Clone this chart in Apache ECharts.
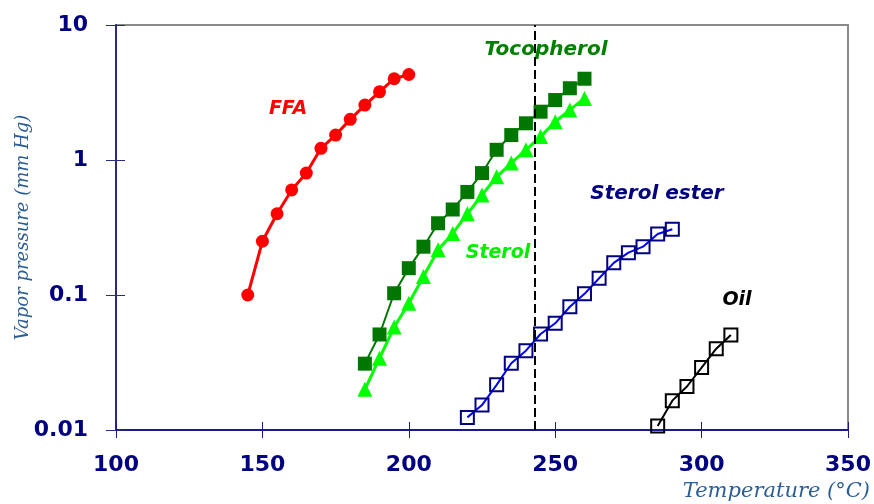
<!DOCTYPE html>
<html>
<head>
<meta charset="utf-8">
<script src="https://cdn.jsdelivr.net/npm/echarts@6/dist/echarts.min.js"></script>
<style>html,body{margin:0;padding:0;background:#fff;}#c{width:874px;height:504px;}</style>
</head>
<body>
<div id="c"></div>
<script>
// Data (temperature °C, vapor pressure mm Hg)
const ffaT = [145,150,155,160,165,170,175,180,185,190,195,200];
const ffaP = [0.1,0.25,0.40,0.60,0.80,1.22,1.53,2.0,2.55,3.2,4.0,4.3];

const tocoT = [185,190,195,200,205,210,215,220,225,230,235,240,245,250,255,260];
const tocoP = [0.031,0.051,0.103,0.158,0.228,0.34,0.43,0.58,0.80,1.19,1.53,1.87,2.28,2.78,3.4,4.0];

const sterolT = [185,190,195,200,205,210,215,220,225,230,235,240,245,250,255,260];
const sterolP = [0.020,0.034,0.058,0.087,0.137,0.216,0.286,0.40,0.55,0.75,0.95,1.19,1.49,1.92,2.35,2.86];

const esterT = [220,225,230,235,240,245,250,255,260,265,270,275,280,285,290];
const esterP = [0.0124,0.0153,0.0216,0.0312,0.0387,0.0514,0.0617,0.0818,0.102,0.133,0.173,0.206,0.228,0.283,0.307];

const oilT = [285,290,295,300,305,310];
const oilP = [0.0107,0.0165,0.021,0.029,0.040,0.0506];

const dashedT = 243;
const xTicks = {min:100, max:350, interval:50};
const yRange = {min:0.01, max:10};

function pts(t, p){ return t.map((v,i)=>[v,p[i]]); }

const chart = echarts.init(document.getElementById('c'));
const navy = '#000080';
const labFont = 'DejaVu Sans';
chart.setOption({
  animation:false,
  backgroundColor:'#fff',
  grid:{left:116,right:26,top:25,bottom:74,show:true,borderColor:'#8a8a8a',borderWidth:2,
        backgroundColor:'transparent',containLabel:false,outerBoundsMode:'none'},
  xAxis:[{
    type:'value',min:xTicks.min,max:xTicks.max,interval:xTicks.interval,
    axisLine:{show:true,lineStyle:{color:'#1a1a90',width:2}},
    axisTick:{show:true,length:8,lineStyle:{color:'#1a1a90',width:1}},
    axisLabel:{color:navy,fontFamily:labFont,fontWeight:'bold',fontSize:22,margin:24},
    splitLine:{show:false}
  },{
    type:'value',min:xTicks.min,max:xTicks.max,interval:xTicks.interval,position:'bottom',
    axisLine:{show:false},
    axisTick:{show:true,inside:true,length:8,lineStyle:{color:'#1a1a90',width:1}},
    axisLabel:{show:false},splitLine:{show:false}
  }],
  yAxis:[{
    type:'log',logBase:10,min:yRange.min,max:yRange.max,
    axisLine:{show:true,lineStyle:{color:'#2a2a80',width:2}},
    axisTick:{show:true,length:10,lineStyle:{color:'#2a2a80',width:1}},
    axisLabel:{color:navy,fontFamily:labFont,fontWeight:'bold',fontSize:22,margin:28,
      formatter:v=>String(+(+v).toPrecision(2))},
    splitLine:{show:false},
    name:'Vapor pressure (mm Hg)',nameLocation:'middle',nameGap:84,nameRotate:90,nameMoveOverlap:false,
    nameTextStyle:{color:'#2b5e94',fontFamily:'DejaVu Serif',fontStyle:'italic',fontSize:18}
  },{
    type:'log',logBase:10,min:yRange.min,max:yRange.max,position:'left',
    axisLine:{show:false},
    axisTick:{show:true,inside:true,length:9,lineStyle:{color:'#2a2a80',width:1}},
    axisLabel:{show:false},splitLine:{show:false}
  }],
  graphic:[
    {type:'text',right:4,top:481,style:{text:'Temperature (°C)',fill:'#2b5e94',font:'italic 21px "DejaVu Serif"'}},
    {type:'text',x:288,y:109,style:{text:'FFA',fill:'#ff0000',font:'italic bold 19px "DejaVu Sans"',align:'center',verticalAlign:'middle'}},
    {type:'text',x:546,y:50,style:{text:'Tocopherol',fill:'#008000',font:'italic bold 20px "DejaVu Sans"',align:'center',verticalAlign:'middle'}},
    {type:'text',x:498,y:253,style:{text:'Sterol',fill:'#00ee00',font:'italic bold 19px "DejaVu Sans"',align:'center',verticalAlign:'middle'}},
    {type:'text',x:657,y:194,style:{text:'Sterol ester',fill:navy,font:'italic bold 20px "DejaVu Sans"',align:'center',verticalAlign:'middle'}},
    {type:'text',x:737,y:300,style:{text:'Oil',fill:'#000000',font:'italic bold 19px "DejaVu Sans"',align:'center',verticalAlign:'middle'}}
  ],
  series:[
    {name:'Dashed',type:'line',data:[],xAxisIndex:0,yAxisIndex:0,
     markLine:{silent:true,symbol:['none','none'],label:{show:false},
       lineStyle:{color:'#000',type:[9,4],width:2},data:[{xAxis:dashedT}]}},
    {name:'Sterol ester',type:'line',data:pts(esterT,esterP),symbol:'rect',symbolSize:13,
     lineStyle:{color:'#0000ff',width:2},itemStyle:{color:'rgba(255,255,255,0)',borderColor:navy,borderWidth:2}},
    {name:'Oil',type:'line',data:pts(oilT,oilP),symbol:'rect',symbolSize:13,
     lineStyle:{color:'#000',width:2},itemStyle:{color:'rgba(255,255,255,0)',borderColor:'#000',borderWidth:2}},
    {name:'Sterol',type:'line',data:pts(sterolT,sterolP),symbol:'triangle',symbolSize:15,
     lineStyle:{color:'#00ff00',width:3},itemStyle:{color:'#00ff00'}},
    {name:'Tocopherol',type:'line',data:pts(tocoT,tocoP),symbol:'rect',symbolSize:14,
     lineStyle:{color:'#007700',width:2},itemStyle:{color:'#007700'}},
    {name:'FFA',type:'line',data:pts(ffaT,ffaP),symbol:'circle',symbolSize:13,
     lineStyle:{color:'#ff0000',width:3},itemStyle:{color:'#ff0000'}}
  ]
});
</script>
</body>
</html>
